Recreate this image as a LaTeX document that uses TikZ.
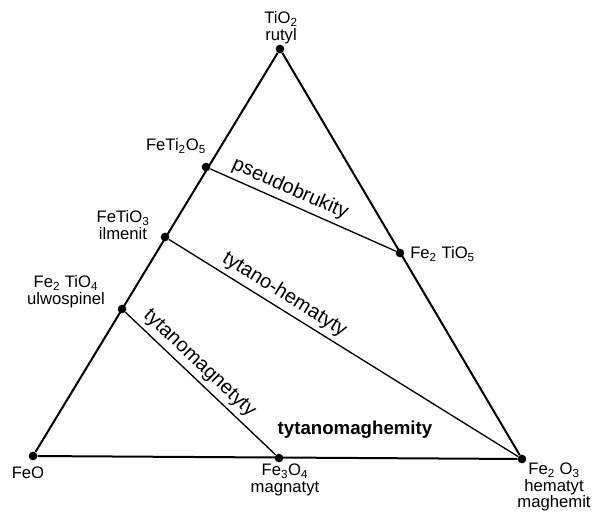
\documentclass[tikz,border=0pt]{standalone}
\usepackage{fontspec}
\setmainfont{Liberation Sans}
\tikzset{
  dot/.style={circle,fill,minimum size=6.5pt,inner sep=0pt},
  lbl/.style={font=\fontsize{12.5}{12.5}\selectfont,align=center,inner sep=0pt},
  side/.style={line width=1.5pt},
  tieline/.style={line width=1pt},
  field/.style={font=\fontsize{15}{15}\selectfont,sloped,above,inner sep=3pt}
}

\begin{document}
\begin{tikzpicture}[x=0.75pt,y=-0.75pt]
\useasboundingbox (0,0) rectangle (592,519);
\node[dot] (TiO2) at (280,49) {};
\node[dot] (FeO) at (33,456) {};
\node[dot] (Fe2O3) at (522,459) {};
\node[dot] (FeTi2O5) at (206,167) {};
\node[dot] (FeTiO3) at (165,237) {};
\node[dot] (Fe2TiO4) at (122,309) {};
\node[dot] (Fe3O4) at (279,458) {};
\node[dot] (Fe2TiO5) at (400,253) {};
\draw[side] (FeO)--(TiO2)--(Fe2O3)--(FeO);
\draw[tieline] (FeTi2O5)--(Fe2TiO5) node[field,pos=0.4] {pseudobrukity};
\draw[tieline] (FeTiO3)--(Fe2O3) node[field,pos=0.31] {tytano-hematyty};
\draw[tieline] (Fe2TiO4)--(Fe3O4) node[field,pos=0.43] {tytanomagnetyty};
\node[lbl] (lTiO2) at (281,28) {TiO\textsubscript{2}\\rutyl};
\node[lbl] (lFeTi2O5) at (176,146) {FeTi\textsubscript{2}O\textsubscript{5}};
\node[lbl] (lFeTiO3) at (123,225) {FeTiO\textsubscript{3}\\ilmenit};
\node[lbl] (lFe2TiO4) at (66,292) {Fe\textsubscript{2} TiO\textsubscript{4}\\ulwospinel};
\node[lbl,anchor=west] (lFe2TiO5) at (410,254) {Fe\textsubscript{2} TiO\textsubscript{5}};
\node[lbl] (lFeO) at (28,473) {FeO};
\node[lbl] (lFe3O4) at (285,480) {Fe\textsubscript{3}O\textsubscript{4}\\magnatyt};
\node[lbl] (lFe2O3) at (554,487) {Fe\textsubscript{2} O\textsubscript{3}\\hematyt\\maghemit};
\node[lbl,font=\bfseries\fontsize{14}{14}\selectfont] (maghem) at (355,430) {tytanomaghemity};
\end{tikzpicture}
\end{document}
